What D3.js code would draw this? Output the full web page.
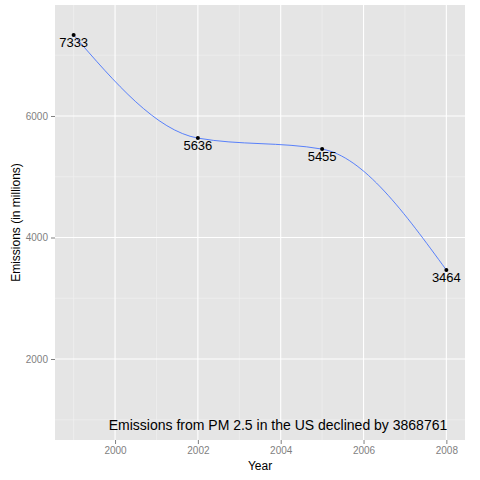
<!DOCTYPE html>
<html><head><meta charset="utf-8">
<script src="https://cdn.jsdelivr.net/npm/d3@7"></script>
<style>body{margin:0;background:#fff}text{font-family:"Liberation Sans",Arial,sans-serif}</style>
</head><body><svg width="480" height="480"></svg>
<script>
var years=[1999,2002,2005,2008];
var emissions=[7333,5636,5455,3464];
var xTicks=[2000,2002,2004,2006,2008];
var yTicks=[2000,4000,6000];
var xMinor=[1999,2001,2003,2005,2007];
var yMinor=[1000,3000,5000,7000];

var L=55,R=465,T=5,B=440;
var svg=d3.select("svg");
var x=d3.scaleLinear().domain([1998.55,2008.45]).range([L,R]);
var y=d3.scaleLinear().domain([667,7827]).range([B,T]);

svg.append("rect").attr("x",L).attr("y",T).attr("width",R-L).attr("height",B-T).attr("fill","#e5e5e5");
var g=svg.append("g");
g.selectAll(".xm").data(xMinor).enter().append("line").attr("x1",x).attr("x2",x).attr("y1",T).attr("y2",B).attr("stroke","#f2f2f2").attr("stroke-width",0.6);
g.selectAll(".ym").data(yMinor).enter().append("line").attr("y1",y).attr("y2",y).attr("x1",L).attr("x2",R).attr("stroke","#f2f2f2").attr("stroke-width",0.6);
g.selectAll(".xg").data(xTicks).enter().append("line").attr("x1",x).attr("x2",x).attr("y1",T).attr("y2",B).attr("stroke","#fff").attr("stroke-width",1.1);
g.selectAll(".yg").data(yTicks).enter().append("line").attr("y1",y).attr("y2",y).attr("x1",L).attr("x2",R).attr("stroke","#fff").attr("stroke-width",1.1);

var xa=svg.append("g").attr("transform","translate(0,"+B+")").call(d3.axisBottom(x).tickValues(xTicks).tickFormat(d3.format("d")).tickSize(4).tickPadding(3));
var ya=svg.append("g").attr("transform","translate("+L+",0)").call(d3.axisLeft(y).tickValues(yTicks).tickFormat(d3.format("d")).tickSize(4).tickPadding(3));
[xa,ya].forEach(function(a){a.select(".domain").remove();a.selectAll("line").attr("stroke","#7f7f7f");a.selectAll("text").attr("fill","#7f7f7f").style("font-size","10px");});

var data=years.map(function(d,i){return {yr:d,v:emissions[i]};});
svg.append("path").datum(data).attr("fill","none").attr("stroke","#3366ff").attr("stroke-width",0.8)
  .attr("d",d3.line().x(function(d){return x(d.yr);}).y(function(d){return y(d.v);}).curve(d3.curveMonotoneX));
svg.selectAll(".pt").data(data).enter().append("circle").attr("cx",function(d){return x(d.yr);}).attr("cy",function(d){return y(d.v);}).attr("r",2).attr("fill","#000");
svg.selectAll(".lb").data(data).enter().append("text").attr("x",function(d){return x(d.yr);}).attr("y",function(d){return y(d.v)+12;})
  .attr("text-anchor","middle").style("font-size","13px").text(function(d){return d.v;});

svg.append("text").attr("x",278).attr("y",430).attr("text-anchor","middle").style("font-size","14px").text("Emissions from PM 2.5 in the US declined by 3868761");
svg.append("text").attr("x",(L+R)/2).attr("y",470).attr("text-anchor","middle").style("font-size","12px").text("Year");
svg.append("text").attr("transform","translate(20,"+((T+B)/2)+") rotate(-90)").attr("text-anchor","middle").style("font-size","12px").text("Emissions (in millions)");
</script></body></html>
